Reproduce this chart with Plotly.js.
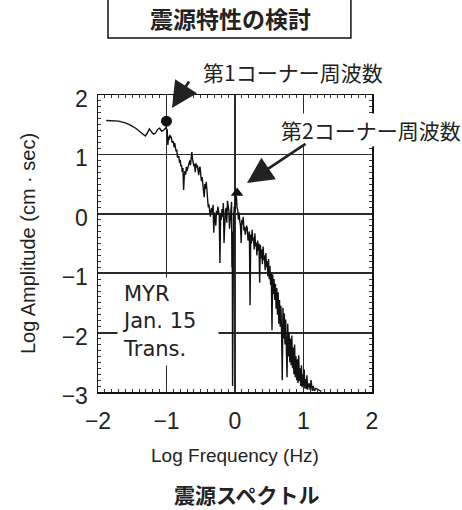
<!DOCTYPE html>
<html>
<head>
<meta charset="utf-8">
<script src="https://cdn.plot.ly/plotly-3.0.1.min.js"></script>
<style>html,body{margin:0;padding:0;background:#fff;}#chart{width:462px;height:510px;}</style>
</head>
<body>
<div id="chart"></div>
<script>
// Source spectrum (log frequency [Hz], log amplitude [cm·sec])
const lowFreq = [-1.88,-1.80,-1.70,-1.60,-1.52,-1.45,-1.38,-1.31,-1.28,-1.25,-1.22,-1.19,-1.16,-1.13,-1.10,-1.07,-1.04,-1.01,-0.99];
const lowAmp  = [ 1.57, 1.57, 1.56, 1.53, 1.49, 1.44, 1.37, 1.31, 1.36, 1.43, 1.38, 1.34, 1.36, 1.42, 1.44, 1.39, 1.41, 1.45, 1.41];

const midFreq = [
 -0.98,-0.97,-0.96,-0.95,-0.94,-0.93,-0.92,-0.90,-0.89,-0.88,-0.86,-0.85,-0.84,-0.82,-0.81,-0.80,-0.79,-0.78,
 -0.77,-0.76,-0.75,-0.74,-0.73,-0.72,-0.71,-0.70,-0.69,-0.67,-0.66,-0.65,-0.64,-0.63,-0.62,-0.61,-0.60,-0.59,
 -0.58,-0.57,-0.56,-0.55,-0.54,-0.53,-0.52,-0.51,-0.50,-0.49,-0.48,-0.47,-0.46,-0.45,-0.44,-0.43,-0.42,-0.41,
 -0.40,-0.39,-0.38,-0.37,-0.36,-0.35,-0.34,-0.33,-0.32,-0.31,-0.30,-0.29,-0.28,-0.27,-0.26,-0.25,-0.24,-0.23,
 -0.22,-0.21,-0.20,-0.19,-0.18,-0.17,-0.16,-0.15,-0.14,-0.13,-0.12,-0.11,-0.10,-0.09,-0.08,-0.07,-0.06,-0.05,
 -0.045,-0.04,-0.035,-0.03,-0.02,-0.01,0.00,0.01,0.02,0.03,0.04,0.05,0.06,0.07,0.08,0.09,0.10,0.11,0.12,0.13,
 0.14,0.15,0.16,0.17,0.18,0.19,0.20
];
const midAmp = [
 1.16,1.30,1.25,1.33,1.28,1.30,1.20,1.22,1.12,1.19,1.05,1.08,0.95,0.97,0.86,0.91,0.80,0.82,
 0.70,0.77,0.40,0.65,0.72,0.66,0.79,0.72,0.77,0.84,0.90,0.82,0.97,1.04,0.92,0.87,0.80,0.84,
 0.70,0.85,0.78,0.82,0.74,0.65,0.77,0.79,0.66,0.55,0.62,0.45,0.43,0.28,0.50,0.42,0.54,0.38,
 0.20,0.11,0.16,0.08,-0.05,0.05,0.10,0.02,0.15,-0.32,0.02,-0.07,-0.20,0.05,-0.02,0.12,0.04,-0.03,
 -0.83,0.00,-0.10,0.08,-0.05,0.18,-0.49,-0.07,0.05,0.10,-0.15,0.22,0.10,0.05,-0.25,-0.05,0.08,0.20,
 -0.90,-0.30,-2.90,-0.40,-0.05,0.12,0.05,0.25,0.30,0.10,0.06,-0.10,0.02,-0.12,-0.20,-0.49,-0.10,-0.18,-0.05,-0.28,
 -0.22,-0.35,-0.30,-0.20,-0.25,-0.45,-0.39
];

const highFreq = [
 0.21,0.22,0.23,0.24,0.25,0.26,0.27,0.28,0.29,0.30,0.31,0.32,0.33,0.34,0.35,0.36,0.37,0.38,0.39,0.40,
 0.41,0.42,0.43,0.44,0.45,0.46,0.47,0.48,0.49,0.50,0.51,0.52,0.53,0.54,0.55,0.56,0.57,0.58,0.59,0.60,
 0.61,0.62,0.63,0.64,0.65,0.66,0.67,0.68,0.69,0.70,0.71,0.72,0.73,0.74,0.75,0.76,0.77,0.78,0.79,0.80,
 0.81,0.82,0.83,0.84,0.85,0.86,0.87,0.88,0.89,0.90,0.91,0.92,0.93,0.94,0.95,0.96,0.97,0.98,0.99,1.00,
 1.01,1.02,1.03,1.04,1.05,1.06,1.08,1.10,1.11,1.13,1.14,1.16,1.18,1.22,1.26
];
const highAmp = [
 -0.30,-1.54,-0.35,-0.50,-0.27,-0.45,-0.40,-0.60,-0.33,-0.55,-0.49,-0.70,-0.45,-0.62,-0.50,-1.16,-0.52,-0.75,-0.60,-0.85,
 -0.55,-0.78,-0.70,-0.95,-0.66,-0.90,-0.80,-1.05,-0.76,-1.10,-0.88,-1.20,-1.00,-1.96,-1.02,-1.35,-1.10,-1.45,-1.18,-1.60,
 -1.25,-1.70,-1.32,-1.85,-1.45,-1.90,-1.55,-2.00,-2.80,-1.58,-2.10,-1.68,-2.20,-1.78,-2.25,-2.75,-1.85,-2.40,-2.00,-2.50,
 -2.10,-2.55,-2.05,-2.60,-2.25,-2.70,-2.20,-2.75,-2.40,-2.80,-2.45,-2.85,-2.38,-2.82,-2.60,-2.90,-2.55,-2.92,-2.70,-2.88,
 -2.62,-2.94,-2.78,-2.95,-2.72,-2.96,-2.85,-2.97,-2.80,-2.98,-2.90,-2.98,-2.94,-2.97,-2.99
];

// Corner frequencies
const corner1Freq = [-1.0];
const corner1Amp = [1.56];
const corner2Freq = [0.03];
const corner2Amp = [0.35];
// Axis ticks
const xTicks = [-2, -1, 0, 1, 2];
const yTicks = [-3, -2, -1, 0, 1, 2];

const logFreq = lowFreq.concat(midFreq, highFreq);
const logAmp = lowAmp.concat(midAmp, highAmp);

const cjk = '"Noto Sans CJK JP", "Noto Sans CJK SC", sans-serif';
const lat = '"Liberation Sans", Arial, sans-serif';

const traces = [
  {x: logFreq, y: logAmp, type: 'scatter', mode: 'lines',
   line: {color: '#111', width: 1.4}, hoverinfo: 'skip', showlegend: false},
  {x: corner1Freq, y: corner1Amp, type: 'scatter', mode: 'markers',
   marker: {symbol: 'circle', size: 11, color: '#111'}, showlegend: false},
  {x: corner2Freq, y: corner2Amp, type: 'scatter', mode: 'markers',
   marker: {symbol: 'triangle-up', size: 11, color: '#111'}, showlegend: false}
];

const axisCommon = {
  showline: true, linecolor: '#111', linewidth: 1.5, mirror: 'allticks',
  showgrid: true, gridcolor: '#2a2a2a', gridwidth: 1.8, zeroline: false,
  ticks: 'inside', ticklen: 0, tickcolor: '#111',
  tickfont: {family: lat, size: 23, color: '#222'},
  minor: {dtick: 0.1, ticks: 'inside', ticklen: 3, tickcolor: '#333', tickwidth: 1, showgrid: false}
};

const layout = {
  width: 462, height: 510,
  margin: {l: 98, r: 90, t: 95, b: 118},
  paper_bgcolor: '#fff', plot_bgcolor: '#fff',
  font: {family: lat, color: '#222'},
  xaxis: Object.assign({}, axisCommon, {
    range: [-2, 2], tickvals: xTicks, ticklabelstandoff: 8,
    title: {text: 'Log Frequency (Hz)', font: {family: lat, size: 19, color: '#222'}, standoff: 15}
  }),
  yaxis: Object.assign({}, axisCommon, {
    range: [-3, 2], tickvals: yTicks, ticklabelstandoff: 4, ticklabelshift: 4,
    title: {text: 'Log Amplitude (cm · sec)', font: {family: lat, size: 20, color: '#222'}, standoff: 20}
  }),
  shapes: [
    {type: 'rect', xref: 'paper', yref: 'paper', x0: 0.0365, x1: 0.923, y0: 1.192, y1: 1.34,
     line: {color: '#111', width: 1.5}, fillcolor: 'rgba(0,0,0,0)'}
  ],
  annotations: [
    {xref: 'paper', yref: 'paper', x: 0.482, y: 1.259, xanchor: 'center', yanchor: 'middle',
     text: '<b>震源特性の検討</b>', showarrow: false, font: {family: cjk, size: 23, color: '#222'}},
    {xref: 'paper', yref: 'paper', x: 0.542, y: -0.345, xanchor: 'center', yanchor: 'middle',
     text: '<b>震源スペクトル</b>', showarrow: false, font: {family: cjk, size: 21, color: '#222'}},
    {xref: 'paper', yref: 'paper', x: 0.71, y: 1.077, xanchor: 'center', yanchor: 'middle',
     text: '第1コーナー周波数', showarrow: false, font: {family: cjk, size: 21, color: '#222'}},
    {xref: 'paper', yref: 'paper', x: 0.998, y: 0.882, xanchor: 'center', yanchor: 'middle',
     text: '第2コーナー周波数', showarrow: false, bgcolor: '#fff', font: {family: cjk, size: 21, color: '#222'}},
    {x: -0.92, y: 1.78, text: '', showarrow: true, ax: 18, ay: -28, axref: 'pixel', ayref: 'pixel',
     arrowhead: 2, arrowsize: 2.0, arrowwidth: 2.6, arrowcolor: '#222', standoff: 0},
    {x: 0.175, y: 0.52, text: '', showarrow: true, ax: 60, ay: -40, axref: 'pixel', ayref: 'pixel',
     arrowhead: 2, arrowsize: 2.0, arrowwidth: 2.6, arrowcolor: '#222', standoff: 0},
    {x: -1.723, y: -1.82, xanchor: 'left', yanchor: 'middle', text: 'MYR<br>Jan. 15<br>Trans.',
     showarrow: false, align: 'left', width: 92, borderpad: 4, bgcolor: '#fff',
     font: {family: '"DejaVu Sans", sans-serif', size: 21, color: '#222'}}
  ]
};

Plotly.newPlot('chart', traces, layout, {displayModeBar: false, staticPlot: true});
</script>
</body>
</html>
